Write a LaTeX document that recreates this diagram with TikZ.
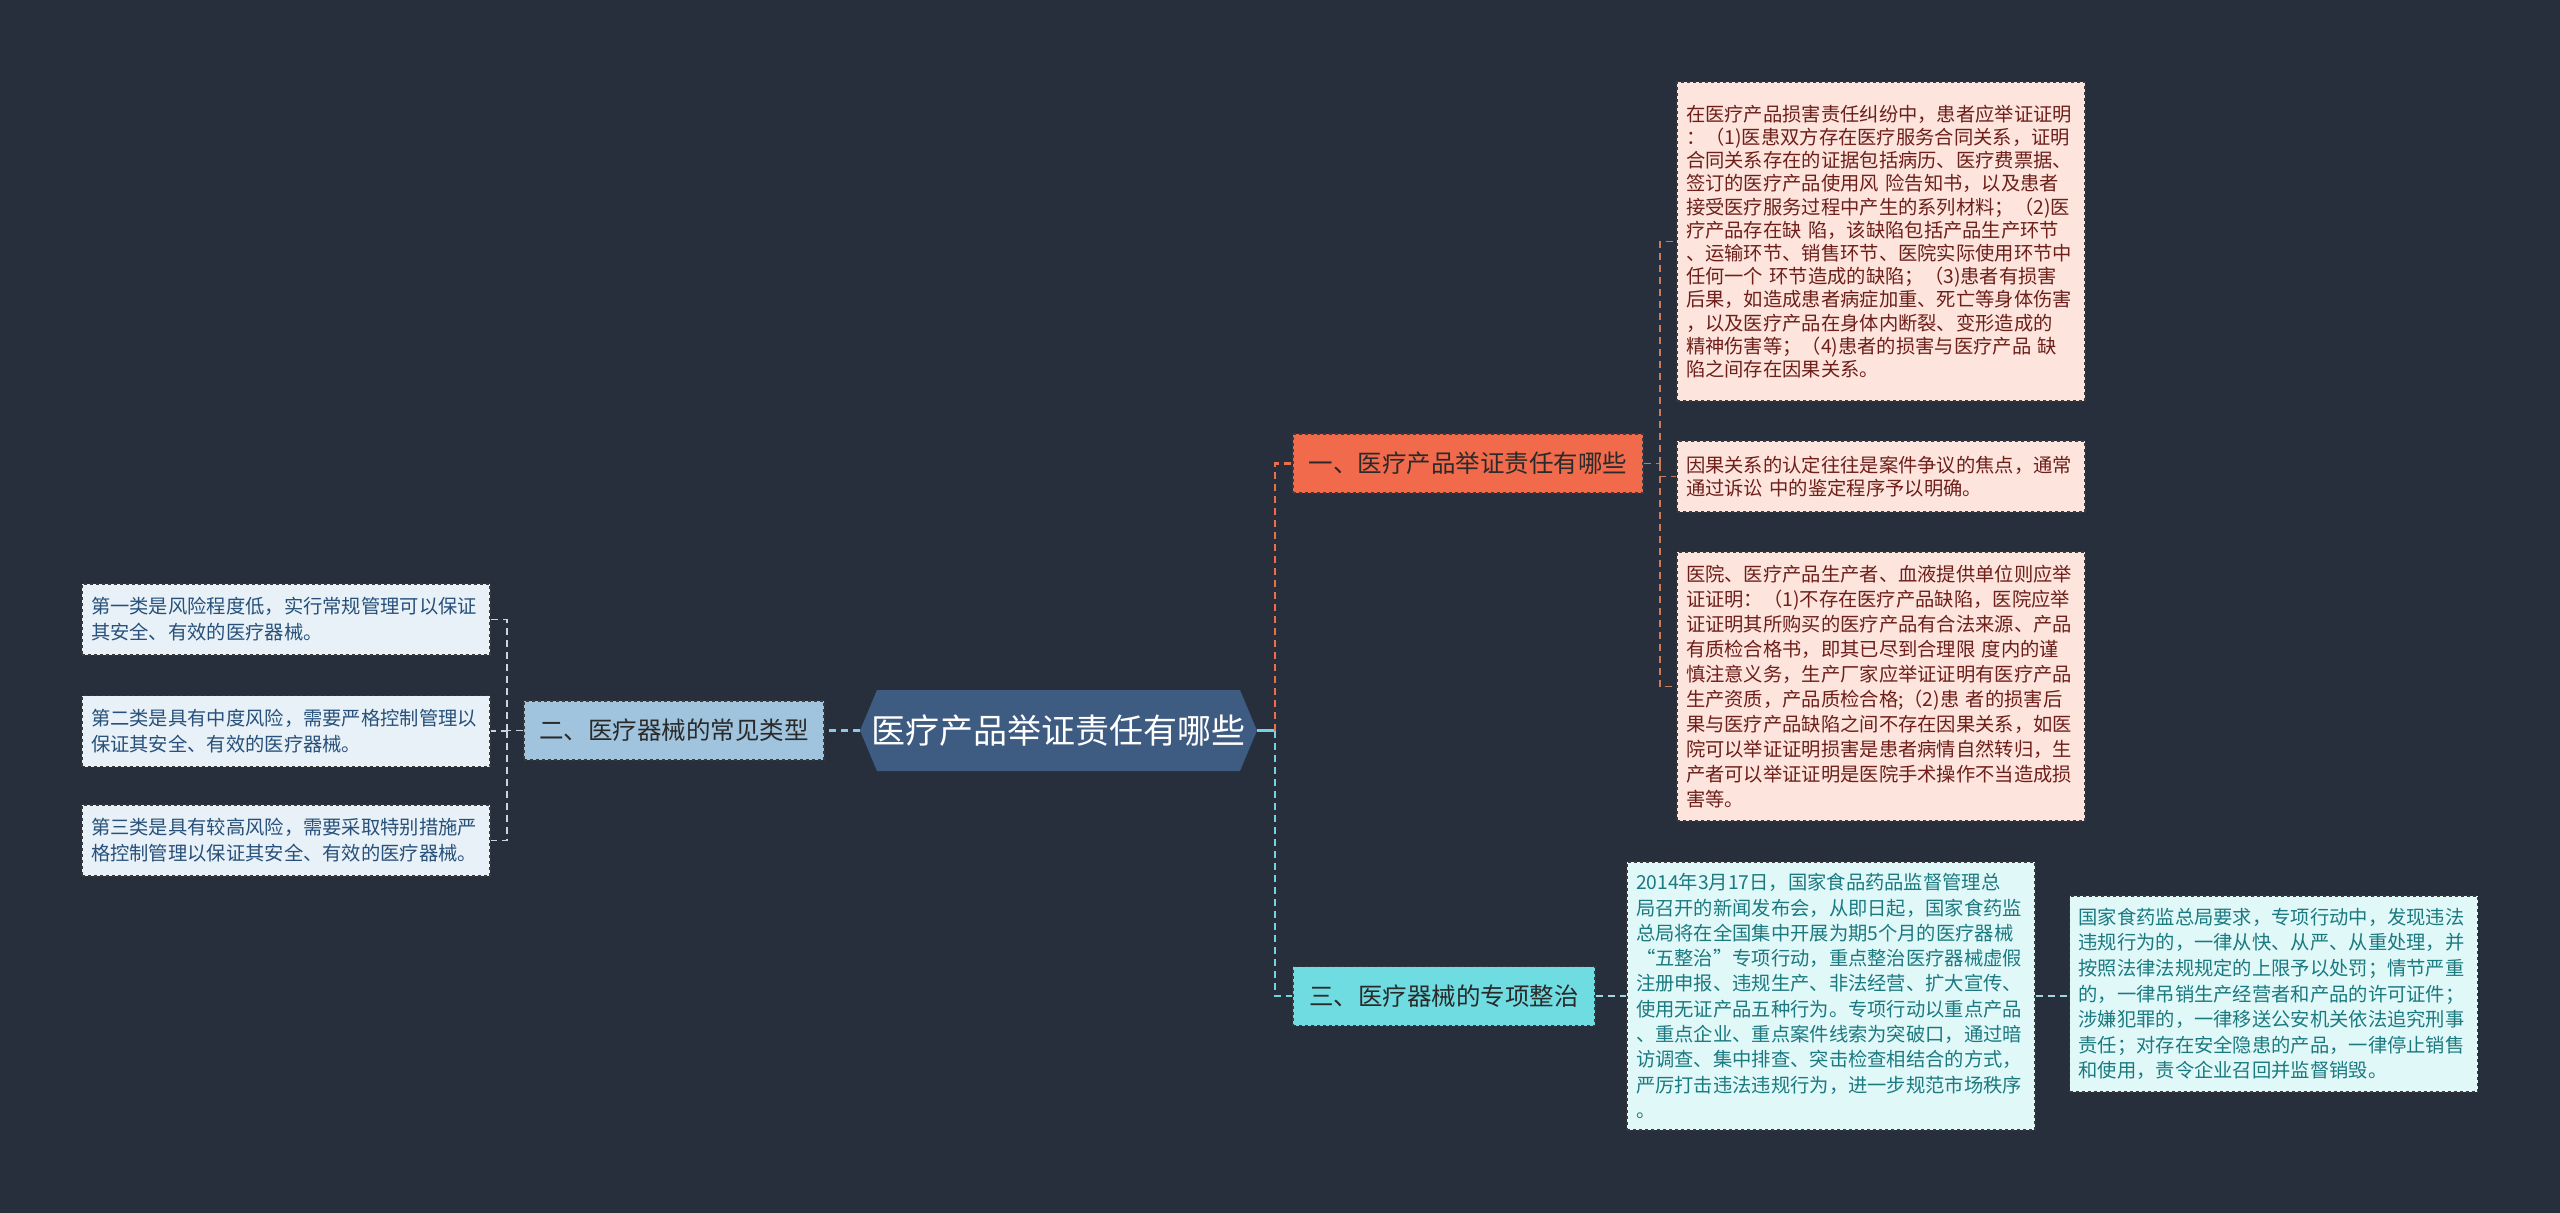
\documentclass[tikz,border=0pt]{standalone}
\usepackage{fontspec}
\setmainfont{Noto Sans CJK SC}
\usetikzlibrary{calc}
\definecolor{bgc}{HTML}{272F3D}
\definecolor{rootc}{HTML}{3E5B82}
\definecolor{orc}{HTML}{F06A4B}
\definecolor{lbc}{HTML}{A0C4DE}
\definecolor{cyc}{HTML}{6FDCE2}
\definecolor{pinkc}{HTML}{FDE5DD}
\definecolor{pinkt}{HTML}{6E1F1A}
\definecolor{paleb}{HTML}{E8F1F7}
\definecolor{palebt}{HTML}{27507A}
\definecolor{palec}{HTML}{E1F8F9}
\definecolor{palect}{HTML}{1B7A80}
\definecolor{edgec}{HTML}{3A3A3A}
\definecolor{darkt}{HTML}{2A2A2A}
\definecolor{orline}{HTML}{E8704F}
\definecolor{cyline}{HTML}{6FD6E0}
\definecolor{lbline}{HTML}{8CCBE0}
\definecolor{grline}{HTML}{C9D5E0}
\definecolor{orlight}{HTML}{CC7A5A}
\definecolor{cylight}{HTML}{9ED9DE}
\begin{document}
\begin{tikzpicture}[x=1pt,y=-1pt,
  roottext/.style={rectangle, inner sep=0pt, minimum width=397pt, minimum height=81pt, text=white, font=\fontsize{34}{40}\selectfont},
  branchbox/.style={rectangle, draw=edgec, dashed, line width=1.2pt, minimum height=59pt, inner sep=0pt, text=darkt, font=\fontsize{24.5}{28}\selectfont},
  leafbox/.style={rectangle, draw=edgec, dashed, line width=1.2pt, text width=390pt, inner xsep=9pt, inner ysep=0pt, align=left},
  pinkleaf/.style={leafbox, fill=pinkc, text=pinkt},
  blueleaf/.style={leafbox, fill=paleb, text=palebt, font=\fontsize{19.3}{26}\selectfont},
  cyanleaf/.style={leafbox, fill=palec, text=palect, font=\fontsize{19.3}{25.3}\selectfont},
  mainlink/.style={line width=2.5pt, dash pattern=on 7pt off 5pt},
  leaflink/.style={line width=1.8pt, dash pattern=on 7pt off 5pt}
]
\fill[bgc] (0,0) rectangle (2560,1213);
\useasboundingbox (0,0) rectangle (2560,1213);

% root
\fill[rootc] (860,730.5) -- (877,690) -- (1240,690) -- (1257,730.5) -- (1240,771) -- (877,771) -- cycle;
\node[roottext] (root) at (1058.5,730.5) {医疗产品举证责任有哪些};

% branches
\node[branchbox, fill=orc, minimum width=350pt] (b1) at (1468,463.5) {一、医疗产品举证责任有哪些};
\node[branchbox, fill=lbc, minimum width=300pt] (b2) at (674,730.5) {二、医疗器械的常见类型};
\node[branchbox, fill=cyc, minimum width=302pt] (b3) at (1444,996) {三、医疗器械的专项整治};

% branch 1 leaves
\node[pinkleaf, font=\fontsize{19.3}{23.2}\selectfont, minimum height=319pt] (l1a) at (1881,241.5) {在医疗产品损害责任纠纷中，患者应举证证明\\
：（1)医患双方存在医疗服务合同关系，证明\\
合同关系存在的证据包括病历、医疗费票据、\\
签订的医疗产品使用风 险告知书，以及患者\\
接受医疗服务过程中产生的系列材料；（2)医\\
疗产品存在缺 陷，该缺陷包括产品生产环节\\
、运输环节、销售环节、医院实际使用环节中\\
任何一个 环节造成的缺陷；（3)患者有损害\\
后果，如造成患者病症加重、死亡等身体伤害\\
，以及医疗产品在身体内断裂、变形造成的\\
精神伤害等；（4)患者的损害与医疗产品 缺\\
陷之间存在因果关系。};
\node[pinkleaf, font=\fontsize{19.3}{23.3}\selectfont, minimum height=71pt] (l1b) at (1881,476.5) {因果关系的认定往往是案件争议的焦点，通常\\
通过诉讼 中的鉴定程序予以明确。};
\node[pinkleaf, font=\fontsize{19.3}{25}\selectfont, minimum height=269pt] (l1c) at (1881,686.5) {医院、医疗产品生产者、血液提供单位则应举\\
证证明：（1)不存在医疗产品缺陷，医院应举\\
证证明其所购买的医疗产品有合法来源、产品\\
有质检合格书，即其已尽到合理限 度内的谨\\
慎注意义务，生产厂家应举证证明有医疗产品\\
生产资质，产品质检合格;（2)患 者的损害后\\
果与医疗产品缺陷之间不存在因果关系，如医\\
院可以举证证明损害是患者病情自然转归，生\\
产者可以举证证明是医院手术操作不当造成损\\
害等。};

% branch 2 leaves
\node[blueleaf, minimum height=71pt] (l2a) at (286,619.5) {第一类是风险程度低，实行常规管理可以保证\\
其安全、有效的医疗器械。};
\node[blueleaf, minimum height=71pt] (l2b) at (286,731) {第二类是具有中度风险，需要严格控制管理以\\
保证其安全、有效的医疗器械。};
\node[blueleaf, minimum height=71pt] (l2c) at (286,840.5) {第三类是具有较高风险，需要采取特别措施严\\
格控制管理以保证其安全、有效的医疗器械。};

% branch 3 leaves
\node[cyanleaf, minimum height=268pt] (l3a) at (1831,996) {2014年3月17日，国家食品药品监督管理总\\
局召开的新闻发布会，从即日起，国家食药监\\
总局将在全国集中开展为期5个月的医疗器械\\
“五整治”专项行动，重点整治医疗器械虚假\\
注册申报、违规生产、非法经营、扩大宣传、\\
使用无证产品五种行为。专项行动以重点产品\\
、重点企业、重点案件线索为突破口，通过暗\\
访调查、集中排查、突击检查相结合的方式，\\
严厉打击违法违规行为，进一步规范市场秩序\\
。};
\node[cyanleaf, font=\fontsize{19.3}{25.6}\selectfont, minimum height=196pt] (l3b) at (2273.5,994) {国家食药监总局要求，专项行动中，发现违法\\
违规行为的，一律从快、从严、从重处理，并\\
按照法律法规规定的上限予以处罚；情节严重\\
的，一律吊销生产经营者和产品的许可证件；\\
涉嫌犯罪的，一律移送公安机关依法追究刑事\\
责任；对存在安全隐患的产品，一律停止销售\\
和使用，责令企业召回并监督销毁。};

% connectors: root to right branches
\coordinate (j1) at (1275,730.5);
\draw[cyline, line width=2.5pt] (root.east) -- (j1);
\draw[orline, mainlink] (j1) |- (b1.west);
\draw[cyline, mainlink] (j1) |- (b3.west);
% root to left branch
\draw[lbline, mainlink] (root.west) -- (b2.east);

% branch 1 to leaves
\coordinate (j3) at (1660,463.5);
\draw[orlight, leaflink] (b1.east) -- (j3);
\draw[orlight, leaflink] (j3) |- (l1a.west);
\draw[orlight, leaflink] (j3) |- (l1b.west);
\draw[orlight, leaflink] (j3) |- (l1c.west);

% branch 2 to leaves
\coordinate (j2) at (507,730.5);
\draw[grline, leaflink] (b2.west) -- (j2);
\draw[grline, leaflink] (j2) |- (l2a.east);
\draw[grline, leaflink] (j2) |- (l2b.east);
\draw[grline, leaflink] (j2) |- (l2c.east);

% branch 3 to leaves
\draw[cylight, leaflink] (b3.east) -- (l3a.west |- b3.east);
\draw[cylight, leaflink] (l3a.east) -- (l3b.west |- l3a.east);
\end{tikzpicture}
\end{document}
